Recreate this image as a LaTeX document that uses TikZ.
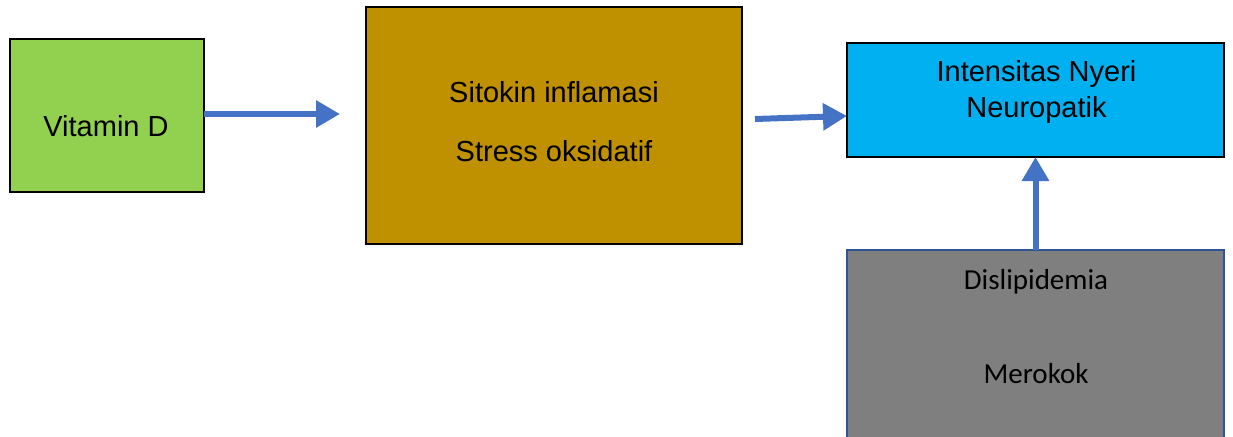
\documentclass[tikz,border=0pt]{standalone}
\usepackage{fontspec}
\setmainfont{Liberation Sans}
\newfontfamily\calfont{Carlito}
\usetikzlibrary{arrows.meta}
\definecolor{vgreen}{HTML}{92D050}
\definecolor{vgold}{HTML}{BF9000}
\definecolor{vblue}{HTML}{00B0F0}
\definecolor{vgray}{HTML}{7F7F7F}
\definecolor{varrow}{HTML}{4472C4}
\definecolor{vborder}{HTML}{2F5597}
\tikzset{
  boxstyle/.style={draw=black, line width=2pt, inner sep=0pt, outer sep=0pt},
  txt/.style={anchor=base, inner sep=0pt, font=\fontsize{29}{33}\selectfont},
  caltxt/.style={anchor=base, inner sep=0pt, font=\calfont\fontsize{29}{33}\selectfont},
  conn/.style={draw=varrow, line width=6pt, -{Triangle[length=24pt,width=26pt]}}
}
\begin{document}
\begin{tikzpicture}[x=1pt,y=-1pt]
\useasboundingbox (0,0) rectangle (1233,436);
\clip (0,0) rectangle (1233,436);
% boxes
\node[boxstyle, fill=vgreen, minimum width=194pt, minimum height=153pt] (vit) at (107,115.5) {};
\node[boxstyle, fill=vgold, minimum width=376pt, minimum height=237pt] (sit) at (554,125.5) {};
\node[boxstyle, fill=vblue, minimum width=377pt, minimum height=114pt] (int) at (1035.5,100) {};
\node[boxstyle, draw=vborder, fill=vgray, minimum width=377pt, minimum height=200pt] (dis) at (1035.5,350) {};
% texts
\node[txt] (tvit) at (106,136.7) {Vitamin D};
\node[txt] (tsit1) at (554,102) {Sitokin inflamasi};
\node[txt] (tsit2) at (554,161) {Stress oksidatif};
\node[txt] (tint1) at (1036.5,81.7) {Intensitas Nyeri};
\node[txt] (tint2) at (1036.5,117.3) {Neuropatik};
\node[caltxt] (tdis1) at (1036,289.3) {Dislipidemia};
\node[caltxt] (tdis2) at (1036,383) {Merokok};
% connectors
\coordinate (a1e) at (340,114);
\coordinate (a2s) at (755,119);
\draw[conn] (vit.east |- a1e) -- (a1e);
\draw[conn] (a2s) -- ([yshift=-16pt]int.west);
\draw[conn] (dis.north) -- (int.south);
\end{tikzpicture}
\end{document}
